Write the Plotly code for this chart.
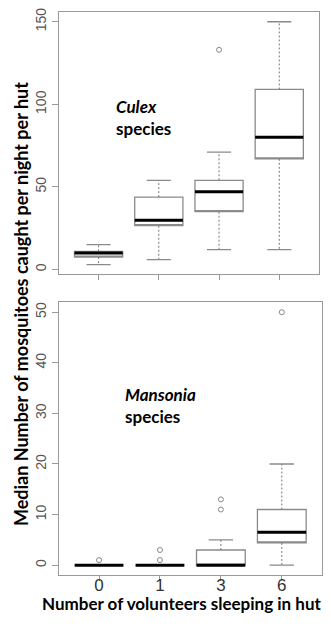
import plotly.graph_objects as go

# ---------------- data ----------------
categories = ["0", "1", "3", "6"]

culex_low = [3, 6, 12, 12]
culex_q1 = [7.5, 26.5, 35, 67]
culex_med = [10, 29.8, 47, 80]
culex_q3 = [11, 43.8, 54, 109]
culex_high = [15, 54, 71, 150]
culex_out_group = ["3"]
culex_out_val = [133]

mans_low = [0, 0, 0, 0]
mans_q1 = [0, 0, 0, 4.4]
mans_med = [0, 0, 0, 6.5]
mans_q3 = [0, 0, 3, 11]
mans_high = [0, 0, 5, 20]
mans_out_group = ["0", "1", "1", "3", "3", "6"]
mans_out_val = [1, 1, 3, 11, 13, 50]

y_title = "Median Number of mosquitoes caught per night per hut"
x_title = "Number of volunteers sleeping in hut"

# ---------------- style ----------------
PAGE_W, PAGE_H = 331, 627
OFF = 8  # default body margin of the html page
W, H = PAGE_W - 2 * OFF, PAGE_H - 2 * OFF


def fx(px):
    return min(max((px - OFF) / W, 0), 1)


def fy(py):
    return min(max(1 - (py - OFF) / H, 0), 1)


BOX_W = 0.8
STAPLE_W = 0.4
BOX_COL = "#8a8a8a"
WHISK_COL = "#777777"
FRAME_COL = "#999999"
TXT_FONT = "Lato"

pos = {c: i + 1 for i, c in enumerate(categories)}

fig = go.Figure()


def add_panel(low, q1, med, q3, high, og, ov, xa, ya):
    for i, c in enumerate(categories):
        p = pos[c]
        fig.add_trace(go.Box(
            x=[p], q1=[q1[i]], median=[q1[i]], q3=[q3[i]],
            lowerfence=[q1[i]], upperfence=[q3[i]],
            width=BOX_W, whiskerwidth=0, fillcolor="white",
            line=dict(color=BOX_COL, width=1.3),
            boxpoints=False, showlegend=False, hoverinfo="skip",
            xaxis=xa, yaxis=ya))
        # whiskers (dotted)
        for a, b in ((q3[i], high[i]), (q1[i], low[i])):
            fig.add_trace(go.Scatter(
                x=[p, p], y=[a, b], mode="lines",
                line=dict(color=WHISK_COL, width=1, dash="2px,2px"),
                showlegend=False, hoverinfo="skip", xaxis=xa, yaxis=ya))
        # staples
        for v in (high[i], low[i]):
            fig.add_trace(go.Scatter(
                x=[p - STAPLE_W / 2, p + STAPLE_W / 2], y=[v, v], mode="lines",
                line=dict(color=BOX_COL, width=1.3),
                showlegend=False, hoverinfo="skip", xaxis=xa, yaxis=ya))
        # median (thick)
        fig.add_trace(go.Scatter(
            x=[p - BOX_W / 2, p + BOX_W / 2], y=[med[i], med[i]], mode="lines",
            line=dict(color="black", width=3),
            showlegend=False, hoverinfo="skip", xaxis=xa, yaxis=ya))
    fig.add_trace(go.Scatter(
        x=[pos[g] for g in og], y=ov, mode="markers",
        marker=dict(symbol="circle-open", size=5, color="#888888",
                    line=dict(width=1)),
        showlegend=False, hoverinfo="skip", xaxis=xa, yaxis=ya))


add_panel(culex_low, culex_q1, culex_med, culex_q3, culex_high,
          culex_out_group, culex_out_val, "x", "y")
add_panel(mans_low, mans_q1, mans_med, mans_q3, mans_high,
          mans_out_group, mans_out_val, "x2", "y2")

axis_common = dict(showline=True, mirror=True, linecolor=FRAME_COL, linewidth=1,
                   showgrid=False, zeroline=False, ticks="outside",
                   tickcolor=FRAME_COL)

tickvals = [pos[c] for c in categories]

fig.update_layout(
    width=W, height=H,
    margin=dict(l=0, r=0, t=0, b=0),
    paper_bgcolor="white", plot_bgcolor="white",
    xaxis=dict(domain=[fx(59), fx(320)], range=[0.34, 4.66], anchor="y",
               tickvals=tickvals, ticktext=categories, showticklabels=False,
               ticklen=5, **axis_common),
    yaxis=dict(domain=[fy(272), fy(4)], range=[-2.9, 155.9], anchor="x",
               tickvals=[0, 50, 100, 150], tickangle=-90, ticklen=6,
               ticklabeloverflow="allow",
               tickfont=dict(family="Liberation Sans, Arial", size=14, color="#555555"),
               **axis_common),
    xaxis2=dict(domain=[fx(59), fx(324)], range=[0.34, 4.66], anchor="y2",
                tickvals=tickvals, ticktext=categories, ticklen=5,
                ticklabelstandoff=-11,
                tickfont=dict(family="Liberation Sans, Arial", size=17, color="#333333"),
                **axis_common),
    yaxis2=dict(domain=[fy(575), fy(300)], range=[-2.0, 52.0], anchor="x2",
                tickvals=[0, 10, 20, 30, 40, 50], tickangle=-90, ticklen=6,
                tickfont=dict(family="Liberation Sans, Arial", size=14, color="#555555"),
                **axis_common),
    annotations=[
        dict(text="<b><i>Culex</i></b><br><b>species</b>", xref="paper", yref="paper",
             x=fx(114), y=fy(91), xanchor="left", yanchor="top", align="left",
             showarrow=False, font=dict(family=TXT_FONT, size=17, color="black")),
        dict(text="<b><i>Mansonia</i></b><br><b>species</b>", xref="paper", yref="paper",
             x=fx(123), y=fy(380), xanchor="left", yanchor="top", align="left",
             showarrow=False, font=dict(family=TXT_FONT, size=17, color="black")),
        dict(text="<b>" + y_title + "</b>", xref="paper", yref="paper",
             x=0, y=fy(302), xanchor="left", yanchor="middle",
             textangle=-90, showarrow=False,
             font=dict(family=TXT_FONT, size=18, color="black")),
        dict(text="<b>" + x_title + "</b>", xref="paper", yref="paper",
             x=fx(182), y=fy(603), xanchor="center", yanchor="middle",
             showarrow=False, font=dict(family=TXT_FONT, size=17, color="black")),
    ],
)

fig.write_html("out.html")
